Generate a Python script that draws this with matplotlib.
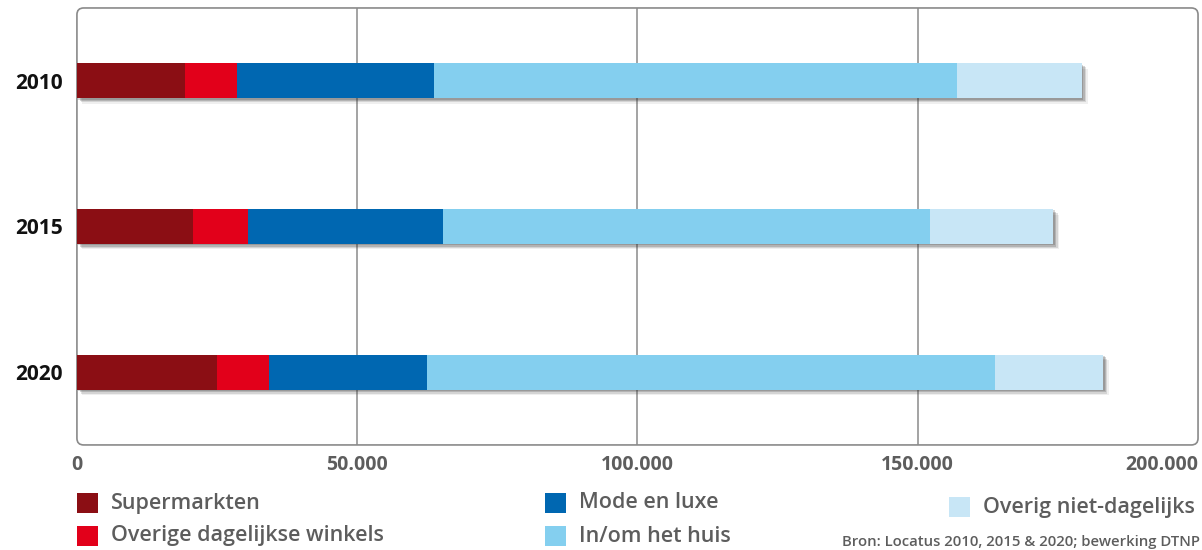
import matplotlib
matplotlib.use("Agg")
import matplotlib.pyplot as plt
import matplotlib.patheffects as pe
from matplotlib.patches import FancyBboxPatch, Rectangle
import numpy as np

# Winkelvloeroppervlak (m² wvo) per branchegroep
years = ["2010", "2015", "2020"]
categories = ["Supermarkten", "Overige dagelijkse winkels", "Mode en luxe",
              "In/om het huis", "Overig niet-dagelijks"]
supermarkten = [19300, 20700, 24900]
overige_dagelijks = [9200, 9800, 9400]
mode_luxe = [35200, 34800, 28200]
in_om_huis = [93300, 86900, 101300]
overig_niet_dagelijks = [22300, 22000, 19300]
series = [supermarkten, overige_dagelijks, mode_luxe, in_om_huis, overig_niet_dagelijks]
colors = ["#8b0e14", "#e2001a", "#0067b1", "#84cfef", "#c8e6f6"]
xticks = [0, 50000, 100000, 150000, 200000]
xticklabels = ["0", "50.000", "100.000", "150.000", "200.000"]
source = "Bron: Locatus 2010, 2015 & 2020; bewerking DTNP"

plt.rcParams["font.family"] = ["Open Sans", "DejaVu Sans"]
gray_text = "#5d5d5d"

W, H = 1202, 550
fig = plt.figure(figsize=(W / 100, H / 100), dpi=100)
ax = fig.add_axes([0.064, 0.191, 0.9327, 0.7945])

ypos = np.arange(len(years))
left = np.zeros(len(years))
# soft drop shadow built from a few stacked offsets
shadow = [pe.SimplePatchShadow(offset=(o, -o), shadow_rgbFace="#333333", alpha=a)
          for o, a in [(4, 0.08), (3, 0.14), (2, 0.2), (1, 0.2)]] + [pe.Normal()]
for vals, col in zip(series, colors):
    bars = ax.barh(ypos, vals, left=left, height=0.24, color=col, zorder=3,
                   edgecolor="none")
    for b in bars:
        b.set_path_effects(shadow)
    left += np.array(vals)

ax.set_xlim(0, 200000)
ax.set_ylim(2.5, -0.5)

for x in xticks[1:-1]:
    ax.axvline(x, color="#8a8a8a", lw=1.1, zorder=1)

for s in ax.spines.values():
    s.set_visible(False)
frame = FancyBboxPatch((0, 0), 1, 1, transform=ax.transAxes,
                       boxstyle="round,pad=0,rounding_size=0.006",
                       mutation_aspect=2.56, facecolor="none",
                       edgecolor="#8a8a8a", lw=1.2, zorder=2, clip_on=False)
ax.add_patch(frame)

ax.set_xticks(xticks)
ax.set_xticklabels(xticklabels, fontsize=14, fontweight="bold", color=gray_text)
ax.get_xticklabels()[-1].set_horizontalalignment("right")
ax.set_yticks(ypos)
ax.set_yticklabels(years, fontsize=15, fontweight="bold", color="#111111")
ax.tick_params(length=0, axis="x", pad=7)
ax.tick_params(length=0, axis="y", pad=10)

# Legenda: (x links, y onder van het vakje, in pixels vanaf linksboven)
legend_items = [
    (77, 513, 0), (77, 546, 1),
    (545, 513, 2), (545, 546, 3),
    (949, 517, 4),
]
sq_w, sq_h = 21, 20
for xl, yb, idx in legend_items:
    fig.patches.append(Rectangle((xl / W, 1 - yb / H), sq_w / W, sq_h / H,
                                 transform=fig.transFigure,
                                 facecolor=colors[idx], edgecolor="none"))
    fig.text((xl + 34) / W, 1 - (yb - 10) / H, categories[idx], fontsize=15.5,
             fontweight="semibold", color=gray_text, va="center", ha="left")

fig.text(0.9985, 1 - 542 / H, source, fontsize=10.7, fontweight="semibold",
         color=gray_text, ha="right", va="center")

fig.savefig("out.png", dpi=100, facecolor="white")
